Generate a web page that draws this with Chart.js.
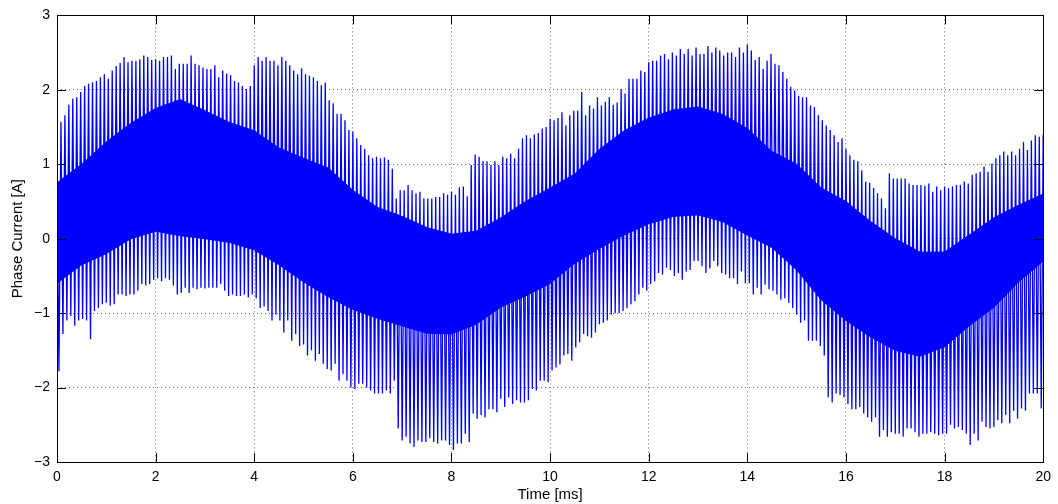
<!DOCTYPE html>
<html><head><meta charset="utf-8">
<script src="https://cdn.jsdelivr.net/npm/chart.js@4.4.1/dist/chart.umd.min.js"></script>
<style>html,body{margin:0;padding:0;background:#fff}#wrap{width:1058px;height:504px}</style>
</head><body><div id="wrap"><canvas id="c" width="1058" height="504"></canvas></div>
<script>
// PWM switching period of the spikes (ms)
const PERIOD_MS = 0.08;

// Upper spike peaks, one per switching period (A)
const spikeHigh = [
0.75,1.57,1.66,1.80,1.88,1.90,1.97,2.05,2.08,2.10,2.12,2.17,2.21,
2.15,2.26,2.32,2.36,2.44,2.37,2.39,2.39,2.41,2.46,2.44,2.40,
2.41,2.39,2.44,2.44,2.46,2.28,2.35,2.35,2.35,2.46,2.35,2.33,2.30,
2.28,2.28,2.33,2.17,2.26,2.22,2.20,2.12,2.10,2.05,2.01,2.05,
2.33,2.44,2.39,2.44,2.39,2.39,2.33,2.44,2.39,2.33,2.26,2.21,2.29,
2.21,2.19,2.17,2.12,2.06,2.10,1.86,1.82,1.68,1.68,1.59,1.46,
1.44,1.35,1.26,1.21,1.12,1.08,1.10,1.08,1.09,1.06,0.94,0.54,0.65,
0.65,0.72,0.65,0.61,0.63,0.54,0.54,0.54,0.56,0.56,0.61,0.59,
0.63,0.59,0.69,0.70,0.57,0.99,1.13,1.10,1.04,1.04,0.99,1.04,0.99,
1.10,1.08,1.14,1.08,1.21,1.35,1.39,1.35,1.40,1.42,1.48,1.50,
1.61,1.59,1.62,1.70,1.52,1.66,1.72,1.72,1.97,1.66,1.79,1.75,1.90,
1.79,1.84,1.90,1.80,1.83,2.01,1.95,2.15,2.15,2.15,2.26,2.24,
2.37,2.39,2.39,2.46,2.48,2.41,2.50,2.46,2.55,2.48,2.55,2.46,2.57,
2.48,2.48,2.59,2.50,2.57,2.53,2.46,2.50,2.50,2.44,2.57,2.50,
2.61,2.53,2.40,2.44,2.28,2.39,2.48,2.35,2.33,2.24,2.15,2.04,1.99,
1.92,1.90,1.90,1.79,1.77,1.66,1.59,1.52,1.46,1.39,1.30,1.35,
1.21,1.12,1.06,1.04,0.92,0.77,0.75,0.68,0.61,0.54,0.41,0.88,0.81,
0.81,0.81,0.81,0.74,0.72,0.72,0.72,0.71,0.74,0.63,0.70,0.65,
0.70,0.68,0.70,0.72,0.72,0.77,0.74,0.86,0.88,0.90,0.97,0.90,1.01,
1.08,1.12,1.17,1.12,1.17,1.12,1.21,1.30,1.19,1.32,1.39,1.37,
1.40
];

// Lower spike troughs, one per switching period (A)
const spikeLow = [
-1.78,-1.28,-1.10,-1.04,-1.17,-1.10,-1.08,-1.10,-1.35,-0.97,-0.93,-0.88,-0.86,
-0.90,-0.88,-0.75,-0.75,-0.77,-0.75,-0.75,-0.70,-0.61,-0.63,-0.61,-0.55,
-0.53,-0.57,-0.53,-0.55,-0.63,-0.75,-0.73,-0.66,-0.73,-0.66,-0.68,-0.66,-0.67,
-0.66,-0.66,-0.66,-0.61,-0.70,-0.77,-0.75,-0.77,-0.77,-0.75,-0.79,-0.75,
-0.80,-0.93,-0.91,-0.97,-1.10,-1.02,-1.10,-1.26,-1.10,-1.37,-1.28,-1.44,-1.42,
-1.57,-1.50,-1.64,-1.55,-1.68,-1.75,-1.77,-1.68,-1.91,-1.82,-1.91,-2.00,
-2.02,-1.95,-1.95,-2.00,-2.04,-2.08,-2.08,-2.08,-2.04,-2.08,-1.91,-2.55,-2.71,
-2.66,-2.75,-2.80,-2.71,-2.73,-2.73,-2.68,-2.73,-2.75,-2.71,-2.71,-2.77,
-2.84,-2.75,-2.75,-2.62,-2.73,-2.35,-2.42,-2.37,-2.40,-2.29,-2.29,-2.33,-2.15,
-2.26,-2.13,-2.22,-2.17,-2.20,-2.20,-2.17,-2.02,-2.04,-1.91,-1.91,-1.93,
-1.77,-1.73,-1.69,-1.57,-1.55,-1.64,-1.46,-1.39,-1.28,-1.31,-1.33,-1.26,-1.15,
-1.13,-1.10,-1.02,-1.00,-1.00,-0.97,-0.93,-0.88,-0.84,-0.75,-0.66,-0.70,
-0.61,-0.57,-0.46,-0.48,-0.39,-0.42,-0.50,-0.46,-0.55,-0.44,-0.42,-0.30,-0.30,
-0.37,-0.46,-0.40,-0.30,-0.37,-0.46,-0.48,-0.53,-0.53,-0.61,-0.44,-0.60,
-0.60,-0.75,-0.66,-0.75,-0.62,-0.68,-0.70,-0.75,-0.82,-0.80,-0.86,-0.93,-1.02,
-1.13,-1.10,-1.37,-1.37,-1.37,-1.44,-1.57,-2.13,-2.20,-2.08,-2.10,-2.13,
-2.22,-2.29,-2.29,-2.26,-2.35,-2.40,-2.46,-2.40,-2.66,-2.57,-2.66,-2.60,-2.62,
-2.62,-2.66,-2.55,-2.55,-2.60,-2.66,-2.62,-2.62,-2.60,-2.62,-2.64,-2.62,
-2.62,-2.50,-2.55,-2.53,-2.57,-2.62,-2.77,-2.62,-2.71,-2.46,-2.53,-2.55,-2.53,
-2.44,-2.48,-2.37,-2.48,-2.31,-2.42,-2.28,-2.31,-2.08,-2.08,-2.08,-2.28,
-1.88
];

// Dense core band (ripple envelope) sampled every 0.5 ms
const coreTime = [0,0.5,1,1.5,2,2.5,3,3.5,4,4.5,5,5.5,6,6.5,7,7.5,8,8.5,9,9.5,10,
  10.5,11,11.5,12,12.5,13,13.5,14,14.5,15,15.5,16,16.5,17,17.5,18,18.5,19,19.5,20];
const coreTop = [0.75,1.0,1.3,1.55,1.75,1.87,1.72,1.56,1.45,1.22,1.08,0.95,0.65,0.42,0.3,0.15,0.06,0.1,0.28,0.5,0.68,
  0.87,1.2,1.45,1.62,1.73,1.77,1.67,1.48,1.17,1.0,0.68,0.5,0.23,0.0,-0.18,-0.18,0.05,0.28,0.45,0.6];
const coreBottom = [-0.6,-0.35,-0.2,0.0,0.1,0.04,0.0,-0.05,-0.15,-0.35,-0.58,-0.78,-0.95,-1.07,-1.17,-1.27,-1.28,-1.15,-0.92,-0.77,-0.6,
  -0.33,-0.13,0.05,0.2,0.3,0.32,0.23,0.05,-0.12,-0.42,-0.82,-1.1,-1.32,-1.5,-1.58,-1.45,-1.17,-0.92,-0.58,-0.3];

const xTicks = [0,2,4,6,8,10,12,14,16,18,20];
const yTicks = [-3,-2,-1,0,1,2,3];

const BLUE = '#0000ff';
const FONT = '"Liberation Sans", Arial, Helvetica, sans-serif';

const spikeData = [];
spikeHigh.forEach((v, i) => {
  spikeData.push({x: i * PERIOD_MS, y: v});
  spikeData.push({x: i * PERIOD_MS + PERIOD_MS / 2, y: spikeLow[i]});
});
const topData = coreTime.map((t, i) => ({x: t, y: coreTop[i]}));
const botData = coreTime.map((t, i) => ({x: t, y: coreBottom[i]}));

const boxTicks = {
  id: 'boxTicks',
  afterDatasetsDraw(chart) {
    const {ctx, chartArea: a, scales: {x, y}} = chart;
    const L = 9;
    ctx.save();
    ctx.strokeStyle = '#000';
    ctx.lineWidth = 1;
    ctx.beginPath();
    xTicks.forEach(v => {
      const px = Math.round(x.getPixelForValue(v)) + 0.5;
      ctx.moveTo(px, a.bottom); ctx.lineTo(px, a.bottom - L);
      ctx.moveTo(px, a.top); ctx.lineTo(px, a.top + L);
    });
    yTicks.forEach(v => {
      const py = Math.round(y.getPixelForValue(v)) + 0.5;
      ctx.moveTo(a.left, py); ctx.lineTo(a.left + L, py);
      ctx.moveTo(a.right, py); ctx.lineTo(a.right - L, py);
    });
    ctx.stroke();
    ctx.strokeRect(Math.round(a.left) + 0.5, Math.round(a.top) + 0.5,
      Math.round(a.right - a.left), Math.round(a.bottom - a.top));
    ctx.restore();
  }
};

new Chart(document.getElementById('c'), {
  type: 'line',
  data: {
    datasets: [
      {data: spikeData, borderColor: BLUE, borderWidth: 1.3, pointRadius: 0, fill: false, tension: 0},
      {data: topData, borderColor: BLUE, backgroundColor: BLUE, borderWidth: 1, pointRadius: 0, fill: '+1', tension: 0},
      {data: botData, borderColor: BLUE, borderWidth: 1, pointRadius: 0, fill: false, tension: 0}
    ]
  },
  options: {
    responsive: false,
    animation: false,
    parsing: false,
    normalized: true,
    events: [],
    layout: {padding: {left: 4, right: 13, top: 13, bottom: 0}},
    plugins: {legend: {display: false}, tooltip: {enabled: false}},
    scales: {
      x: {
        type: 'linear', min: 0, max: 20,
        afterBuildTicks: s => { s.ticks = xTicks.map(v => ({value: v})); },
        afterFit: s => { s.height = 42; },
        ticks: {color: '#000', font: {family: FONT, size: 14}, padding: 7, maxRotation: 0, autoSkip: false},
        grid: {color: 'rgba(0,0,0,0.6)', lineWidth: 1, drawTicks: false},
        border: {display: false, dash: [1, 3]},
        title: {display: true, text: 'Time [ms]', color: '#000', font: {family: FONT, size: 15}, padding: {top: 0, bottom: 0}}
      },
      y: {
        type: 'linear', min: -3, max: 3,
        afterBuildTicks: s => { s.ticks = yTicks.map(v => ({value: v})); },
        afterFit: s => { s.width = 53; },
        ticks: {color: '#000', font: {family: FONT, size: 14}, padding: 7,
          callback: v => v < 0 ? '\u2212' + Math.abs(v) : String(v)},
        grid: {color: 'rgba(0,0,0,0.6)', lineWidth: 1, drawTicks: false},
        border: {display: false, dash: [1, 3]},
        title: {display: true, text: 'Phase Current [A]', color: '#000', font: {family: FONT, size: 15}, padding: {top: 5, bottom: 0}}
      }
    }
  },
  plugins: [boxTicks]
});
</script>
</body></html>
